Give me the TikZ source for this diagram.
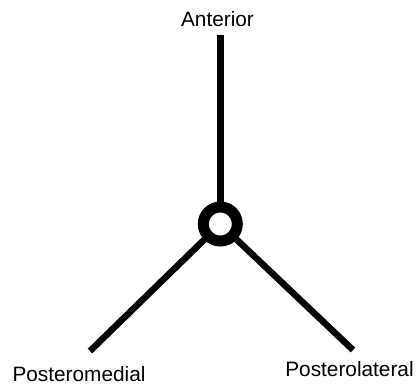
\documentclass[tikz,border=0pt]{standalone}
\usepackage{fontspec}
\setmainfont{Liberation Sans}
\begin{document}
\begin{tikzpicture}[x=1pt,y=-1pt,
  limb/.style={line width=6.5pt,line cap=butt},
  ring/.style={circle,draw,fill=white,line width=11pt,minimum size=34pt,inner sep=0pt,outer sep=0pt},
  lbl/.style={anchor=base,inner sep=0pt,font=\fontsize{20.8}{24}\selectfont}]
\useasboundingbox (0,0) rectangle (417,383);
\coordinate (top) at (220.3,35);
\coordinate (pm) at (90,351);
\coordinate (pl) at (353,350);
\draw[limb] (220.3,224) -- (top);
\draw[limb] (220.3,224) -- (pm);
\draw[limb] (220.3,224) -- (pl);
\node[ring] (c) at (220.3,224) {};
\node[lbl] (ant) at (217.5,26.7) {Anterior};
\node[lbl] (pmed) at (79,381.5) {Posteromedial};
\node[lbl] (plat) at (349.5,376.5) {Posterolateral};
\end{tikzpicture}
\end{document}
